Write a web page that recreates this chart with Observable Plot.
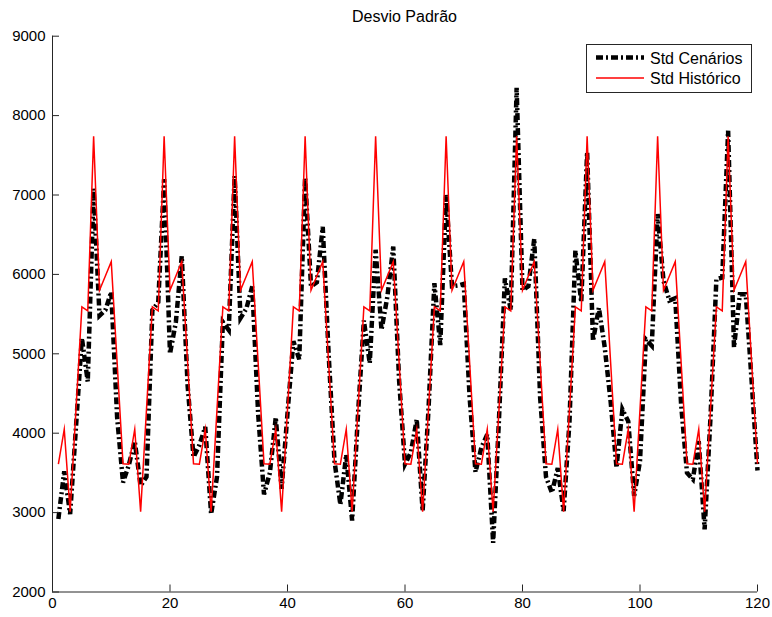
<!DOCTYPE html>
<html><head><meta charset="utf-8">
<script src="https://cdn.jsdelivr.net/npm/d3@7"></script>
<script src="https://cdn.jsdelivr.net/npm/@observablehq/plot@0.6"></script>
<style>
body{margin:0;background:#fff;font-family:"Liberation Sans",Arial,sans-serif;}
#wrap{position:relative;width:772px;height:617px;overflow:hidden;}
#title{height:28px;margin-left:52px;width:705px;text-align:center;font-size:16px;line-height:16px;padding-top:9px;box-sizing:border-box;color:#000;}
#legend{position:absolute;left:586px;top:44px;}
#chart svg{display:block;}
</style></head>
<body>
<div id="wrap">
  <div id="title">Desvio Padrão</div>
  <div id="chart"></div>
  <div id="legend"></div>
</div>
<script>
// Month index (x)
const months = d3.range(1, 121);
// Std Cenários (black dash-dot)
const stdCenarios = [
  2920, 3520, 2980, 4080, 5200, 4650, 7080, 5480, 5550, 5780, 4200, 3380,
  3600, 3900, 3340, 3450, 5550, 5650, 7200, 5000, 5400, 6230, 4600, 3700,
  3850, 4080, 2980, 3450, 5400, 5300, 7240, 5450, 5570, 5850, 4250, 3230,
  3500, 4200, 3300, 4250, 5160, 4930, 7220, 5850, 5900, 6600, 5000, 3650,
  3100, 3730, 2900, 4240, 5420, 4880, 6310, 5300, 5720, 6350, 4660, 3610,
  3760, 4175, 3020, 4300, 5890, 5110, 7000, 5850, 5860, 5880, 4450, 3510,
  3820, 3985, 2620, 4180, 5950, 5550, 8350, 5800, 5850, 6450, 4450, 3450,
  3250, 3560, 3020, 4150, 6300, 5650, 7540, 5160, 5580, 5080, 4400, 3566,
  4300, 4150, 3210, 3650, 5180, 5100, 6760, 5920, 5670, 5700, 4360, 3500,
  3420, 3900, 2790, 4200, 5940, 5960, 7810, 5080, 5750, 5750, 4660, 3530
];
// Std Histórico (red)
const stdHistorico = [
  3610, 4050, 3010, 4300, 5590, 5540, 7740, 5800, 5980, 6160, 4890, 3615,
  3610, 4050, 3010, 4300, 5590, 5540, 7740, 5800, 5980, 6160, 4890, 3615,
  3610, 4050, 3010, 4300, 5590, 5540, 7740, 5800, 5980, 6160, 4890, 3615,
  3610, 4050, 3010, 4300, 5590, 5540, 7740, 5800, 5980, 6160, 4890, 3615,
  3610, 4050, 3010, 4300, 5590, 5540, 7740, 5800, 5980, 6160, 4890, 3615,
  3610, 4050, 3010, 4300, 5590, 5540, 7740, 5800, 5980, 6160, 4890, 3615,
  3610, 4050, 3010, 4300, 5590, 5540, 7740, 5800, 5980, 6160, 4890, 3615,
  3610, 4050, 3010, 4300, 5590, 5540, 7740, 5800, 5980, 6160, 4890, 3615,
  3610, 4050, 3010, 4300, 5590, 5540, 7740, 5800, 5980, 6160, 4890, 3615,
  3610, 4050, 3010, 4300, 5590, 5540, 7740, 5800, 5980, 6160, 4890, 3615
];
const xTicks = [0, 20, 40, 60, 80, 100, 120];
const yTicks = [2000, 3000, 4000, 5000, 6000, 7000, 8000, 9000];
const seriesNames = ["Std Cenários", "Std Histórico"];

const rows = months.map((t, i) => ({t, cen: stdCenarios[i], hist: stdHistorico[i]}));
const axisColor = "#262626";

const chart = Plot.plot({
  width: 772, height: 589,
  marginLeft: 52, marginRight: 15, marginTop: 7.7, marginBottom: 25.5,
  x: {domain: [0, 120]},
  y: {domain: [2000, 9000]},
  style: {fontFamily: "'Liberation Sans', Arial, sans-serif", fontSize: "15px", color: "#000", background: "#fff", overflow: "visible"},
  marks: [
    Plot.line(rows, {x: "t", y: "cen", stroke: "#000", strokeWidth: 4.5, strokeDasharray: "7 3 2 3", strokeLinecap: "butt", strokeLinejoin: "miter", strokeMiterlimit: 4}),
    Plot.line(rows, {x: "t", y: "hist", stroke: "#ff0000", strokeWidth: 1.5, strokeLinejoin: "miter", strokeMiterlimit: 10, strokeLinecap: "butt"}),
    Plot.ruleX([0], {stroke: axisColor}),
    Plot.ruleY([2000], {stroke: axisColor}),
    Plot.axisX(xTicks, {tickSize: -7, tickPadding: 12, stroke: axisColor, label: null, tickFormat: d => String(d)}),
    Plot.axisY(yTicks, {tickSize: -7, tickPadding: 14, stroke: axisColor, label: null, tickFormat: d => String(d)})
  ]
});
document.getElementById("chart").appendChild(chart);

// Legend
const lg = d3.select("#legend").append("svg").attr("width", 166).attr("height", 49)
  .style("font-family", "'Liberation Sans', Arial, sans-serif").style("font-size", "16px");
lg.append("rect").attr("x", 0.5).attr("y", 0.5).attr("width", 165).attr("height", 48)
  .attr("fill", "#fff").attr("stroke", axisColor);
const legendStyles = [
  {stroke: "#000", width: 4.5, dash: "7 3 2 3", y: 13.5},
  {stroke: "#ff0000", width: 1.5, dash: null, y: 34}
];
seriesNames.forEach((name, i) => {
  const s = legendStyles[i];
  lg.append("line").attr("x1", 10).attr("x2", 58).attr("y1", s.y).attr("y2", s.y)
    .attr("stroke", s.stroke).attr("stroke-width", s.width)
    .attr("stroke-dasharray", s.dash).attr("stroke-linecap", "butt");
  lg.append("text").attr("x", 64).attr("y", s.y + 6).attr("fill", "#000").text(name);
});
</script>
</body></html>
